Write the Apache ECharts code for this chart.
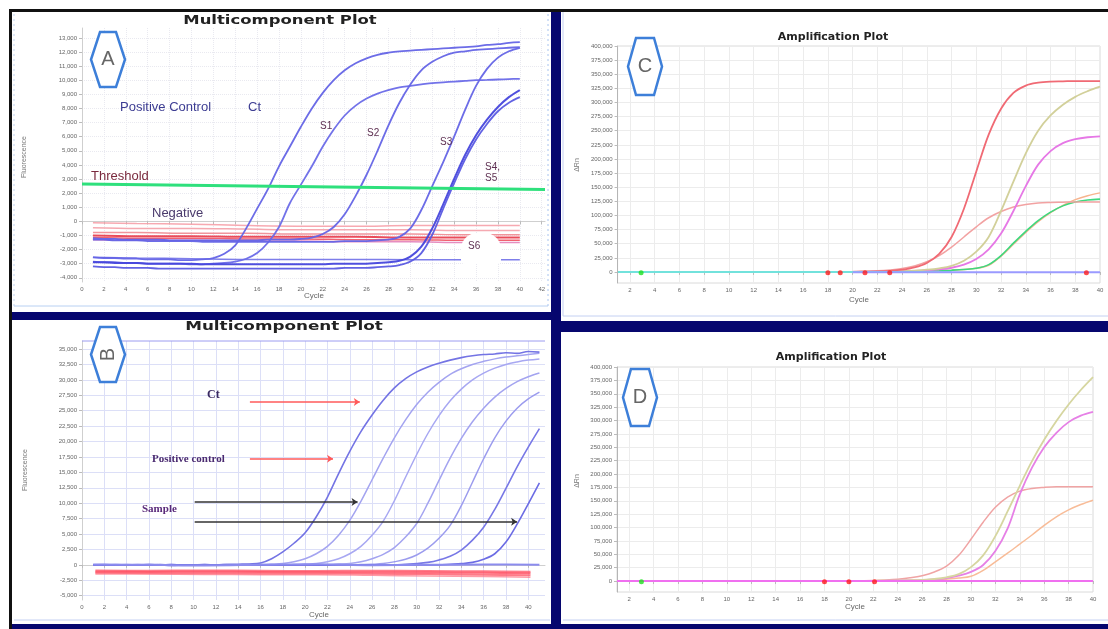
<!DOCTYPE html>
<html>
<head>
<meta charset="utf-8">
<script src="https://cdn.jsdelivr.net/npm/echarts/dist/echarts.min.js"></script>
<style>
html, body { margin: 0; padding: 0; background: #fff; }
#main { width: 1108px; height: 629px; }
</style>
</head>
<body>
<div id="main"></div>
<script>
// ---- panel A (multicomponent plot), fluorescence in thousands ----
const aCycles = [1,2,3,4,5,6,7,8,9,10,11,12,13,14,15,16,17,18,19,20,21,22,23,24,25,26,27,28,29,30,31,32,33,34,35,36,37,38,39,40];
const aS1a = [-2.55,-2.6,-2.6,-2.65,-2.65,-2.7,-2.7,-2.7,-2.75,-2.75,-2.7,-2.6,-2.3,-1.7,-0.5,0.9,2.3,3.9,5.3,6.7,8.0,9.1,10.0,10.7,11.2,11.55,11.8,11.95,12.05,12.1,12.15,12.2,12.25,12.3,12.35,12.4,12.5,12.55,12.65,12.7];
const aS1b = [-2.85,-2.9,-2.9,-2.95,-2.95,-3.0,-3.0,-3.0,-3.0,-3.05,-3.05,-3.0,-2.95,-2.85,-2.65,-2.25,-1.5,-0.4,1.3,2.6,3.9,5.3,6.5,7.5,8.2,8.7,9.05,9.3,9.5,9.6,9.7,9.8,9.85,9.9,9.95,10.0,10.02,10.05,10.08,10.1];
const aS2 = [-1.2,-1.25,-1.25,-1.3,-1.3,-1.3,-1.3,-1.35,-1.35,-1.35,-1.35,-1.35,-1.35,-1.35,-1.35,-1.35,-1.3,-1.3,-1.3,-1.25,-1.15,-0.9,-0.4,0.5,1.8,3.3,5.0,6.8,8.4,9.7,10.7,11.3,11.7,11.95,12.05,12.15,12.2,12.25,12.3,12.35];
const aS3 = [-1.3,-1.3,-1.35,-1.35,-1.35,-1.4,-1.4,-1.4,-1.4,-1.4,-1.45,-1.45,-1.45,-1.45,-1.45,-1.45,-1.45,-1.45,-1.45,-1.45,-1.45,-1.45,-1.45,-1.4,-1.4,-1.4,-1.35,-1.3,-1.1,-0.5,0.8,2.5,4.2,6.0,7.9,9.6,10.8,11.6,12.05,12.3];
const aS4 = [-2.9,-2.9,-2.95,-2.95,-2.95,-3.0,-3.0,-3.0,-3.0,-3.0,-3.05,-3.05,-3.05,-3.05,-3.05,-3.05,-3.05,-3.05,-3.05,-3.05,-3.05,-3.05,-3.0,-3.0,-3.0,-3.0,-2.95,-2.9,-2.8,-2.5,-1.8,-0.5,1.2,3.0,4.7,6.1,7.2,8.1,8.8,9.3];
const aS5 = [-3.2,-3.25,-3.25,-3.3,-3.3,-3.3,-3.35,-3.35,-3.35,-3.35,-3.35,-3.35,-3.35,-3.35,-3.35,-3.35,-3.35,-3.35,-3.35,-3.35,-3.35,-3.35,-3.35,-3.3,-3.3,-3.3,-3.25,-3.2,-3.1,-2.85,-2.25,-0.95,0.9,2.7,4.4,5.8,6.9,7.8,8.4,8.8];
const aFlatCycles = [1,5,10,15,20,25,30,35,40];
const aS6 = [-2.55,-2.6,-2.65,-2.7,-2.7,-2.7,-2.72,-2.72,-2.72];
const aNeg1 = [-0.1,-0.15,-0.2,-0.3,-0.35,-0.35,-0.3,-0.3,-0.3];
const aNeg2 = [-0.45,-0.5,-0.5,-0.55,-0.6,-0.6,-0.6,-0.65,-0.65];
const aNeg3 = [-0.8,-0.8,-0.85,-0.85,-0.9,-0.9,-0.9,-0.95,-0.95];
const aNeg4 = [-1.0,-1.05,-1.05,-1.1,-1.1,-1.1,-1.15,-1.15,-1.15];
const aNeg5 = [-1.15,-1.2,-1.2,-1.25,-1.25,-1.3,-1.3,-1.35,-1.35];
const aNeg6 = [-1.3,-1.35,-1.35,-1.4,-1.4,-1.45,-1.45,-1.5,-1.5];
const aThreshCycles = [0, 42.3];
const aThreshold = [2.65, 2.25];
const aTicksX = [0,2,4,6,8,10,12,14,16,18,20,22,24,26,28,30,32,34,36,38,40,42];
const aTicksY = [-4,-3,-2,-1,0,1,2,3,4,5,6,7,8,9,10,11,12,13];

// ---- panel B (multicomponent plot), fluorescence in thousands ----
const bCycles = [1,2,3,4,5,6,7,8,9,10,11,12,13,14,15,16,17,18,19,20,21,22,23,24,25,26,27,28,29,30,31,32,33,34,35,36,37,38,39,40,41];
const bPos = [0,0.05,0,-0.05,0,0.05,0,-0.1,-0.05,0,0.05,0,0.05,0.1,0.15,0.3,1.0,2.1,3.5,5.2,7.8,11.0,14.8,18.4,21.6,24.3,26.7,28.7,30.2,31.3,32.1,32.7,33.2,33.6,33.9,34.1,34.2,34.4,34.3,34.6,34.5];
const bS1 = [0,0,0.05,0,-0.05,0,0,0.05,0,0,-0.05,0,0.05,0,0.05,0.05,0.1,0.2,0.5,1.0,1.8,3.0,4.8,7.2,10.3,13.8,17.3,20.6,23.5,26.0,28.0,29.6,30.9,31.8,32.5,33.0,33.4,33.7,33.9,34.1,34.3];
const bS2 = [0,0,0,0.05,0,0,-0.05,0,0,0,0.05,0,0,0,0,0.05,0,0,0.05,0.1,0.2,0.5,1.0,1.8,3.0,4.8,7.1,10.4,14.2,17.9,21.3,24.2,26.6,28.5,30.0,31.1,31.9,32.5,32.9,33.2,33.4];
const bS3 = [0,0,0,0,0.05,0,0,0,-0.05,0,0,0,0.05,0,0,0,0,0.05,0,0,0,0,0.1,0.2,0.5,1.0,1.7,2.8,4.5,6.7,10.0,13.7,17.3,20.5,23.2,25.4,27.2,28.6,29.7,30.5,31.1];
const bS4 = [0,0,0,0,0,0.05,0,0,0,0,-0.05,0,0,0,0,0,0.05,0,0,0,0,0,0,0,0.05,0.1,0.2,0.5,0.9,1.6,2.7,4.3,6.4,9.6,13.4,17.2,20.6,23.3,25.4,26.9,28.0];
const bS5 = [0,0,0,0,0,0,0.05,0,0,0,0,0,-0.05,0,0,0,0,0,0,0.05,0,0,0,0,0,0,0,0,0.1,0.2,0.4,0.8,1.4,2.4,4.0,6.1,9.0,12.4,15.9,19.1,22.1];
const bS6 = [0,0,0,0,0,0,0,0.05,0,0,0,0,0,0,-0.05,0,0,0,0,0,0,0,0.05,0,0,0,0,0,0,0,0,0,0.1,0.2,0.4,0.9,1.8,3.7,6.6,9.9,13.3];
const bFlatCycles = [1,6,11,16,21,26,31,36,41];
const bBase = [0.05,0,-0.1,0,0.1,-0.05,0,0.05,0];
const bNegCycles = [1.2,6,11,16,21,26,31,36,40.2];
const bNeg1 = [-0.9,-0.95,-0.9,-0.95,-1.0,-0.95,-1.0,-1.05,-1.1];
const bNeg2 = [-1.1,-1.15,-1.1,-1.15,-1.2,-1.2,-1.25,-1.3,-1.35];
const bNeg3 = [-1.3,-1.35,-1.35,-1.4,-1.4,-1.45,-1.5,-1.6,-1.7];
const bNeg4 = [-1.5,-1.5,-1.55,-1.6,-1.6,-1.7,-1.8,-1.9,-2.0];
const bTicksX = [0,2,4,6,8,10,12,14,16,18,20,22,24,26,28,30,32,34,36,38,40];
const bTicksY = [-5,-2.5,0,2.5,5,7.5,10,12.5,15,17.5,20,22.5,25,27.5,30,32.5,35];

// ---- panel C (amplification plot), delta Rn in thousands ----
const cCycles = [1,20,21,22,23,24,25,26,27,28,29,30,31,32,33,34,35,36,37,38,39,40];
const cRed = [0,0.3,0.6,1.0,2.0,4.0,8.0,16,32,62,112,178,243,289,317,330,335,337,337.5,338,338,338];
const cOlive = [0,0.2,0.4,0.6,1.0,1.6,2.5,4.0,6.5,11,20,36,62,108,160,210,250,277,296,310,320,328];
const cMagenta = [0,0.1,0.3,0.5,0.8,1.3,2.0,3.0,4.5,7.5,13,23,40,68,108,152,190,214,228,235,238.5,240];
const cSalmon = [0,0.8,1.3,2.0,3.5,6.0,10.5,18,29,44,62,80,96,107,115,119.5,122,123,123.5,124,124,124];
const cGreen = [0,0.1,0.2,0.3,0.5,0.7,1.0,1.5,2.2,3.2,4.5,6.5,13,29,51,72,91,106,117,124,127.5,129];
const cOrange = [0,0.1,0.2,0.3,0.5,0.7,1.0,1.5,2.2,3.2,4.5,6.5,12,28,49,70,89,105,118,128,135,140];
const cCyanCycles = [1,28];
const cCyan = [0,0];
const cBlueCycles = [20,40];
const cBlue = [-0.5,-0.5];
const cRedCt = [18,19,21,23,38.9];
const cGreenCt = [2.9];

// ---- panel D (amplification plot), delta Rn in thousands ----
const dCycles = [1,20,21,22,23,24,25,26,27,28,29,30,31,32,33,34,35,36,37,38,39,40];
const dOlive = [0,0.1,0.2,0.4,0.6,0.9,1.4,2.2,3.8,7,13,26,48,84,130,178,224,264,299,330,357,381];
const dMagenta = [0,0.1,0.2,0.3,0.5,0.8,1.2,1.8,3.0,5.5,10,17,30,56,98,162,212,250,277,297,309,316];
const dSalmon = [0,0.3,0.6,1.0,2.0,3.5,6.0,10,17,28,48,78,110,138,157,168,173,175,176,176,176,176];
const dOrange = [0,0.1,0.2,0.3,0.5,0.7,1.0,1.5,2.2,3.5,5.5,9,20,36,52,69,86,104,120,133,143,151];
const dPinkCycles = [1,40];
const dPink = [0,0];
const dRedCt = [18,20,22.1];
const dGreenCt = [3];
const cdTicksX = [2,4,6,8,10,12,14,16,18,20,22,24,26,28,30,32,34,36,38,40];
const cdTicksY = [0,25,50,75,100,125,150,175,200,225,250,275,300,325,350,375,400];

const thousands = v => Math.round(v * 1000).toLocaleString('en-US');
const pairs = (xs, ys) => xs.map((x, i) => [x, ys[i]]);

function curve(idx, xs, ys, color, width, opacity, smooth) {
  return {
    type: 'line', xAxisIndex: idx, yAxisIndex: idx, data: pairs(xs, ys),
    symbol: 'none', silent: true, smooth: smooth === false ? false : 0.35,
    lineStyle: { color: color, width: width, opacity: opacity }
  };
}
function dots(idx, xs, value, color) {
  return {
    type: 'scatter', xAxisIndex: idx, yAxisIndex: idx, silent: true, z: 5,
    data: xs.map(x => [x, value]), symbol: 'circle', symbolSize: 5,
    itemStyle: { color: color }
  };
}

function xAxis(idx, min, max, ticks, split) {
  return {
    type: 'value', gridIndex: idx, min: min, max: max,
    axisLine: { lineStyle: { color: idx < 2 ? '#cfcfcf' : '#b5b5b5' } },
    axisTick: { customValues: ticks, length: 3, lineStyle: { color: '#bbb' } },
    axisLabel: { customValues: ticks, fontSize: 6, color: '#666', margin: 4, fontFamily: 'Liberation Sans' },
    splitLine: { show: true, lineStyle: split }
  };
}
function yAxis(idx, min, max, ticks, split) {
  return {
    type: 'value', gridIndex: idx, min: min, max: max,
    axisLine: { show: true, lineStyle: { color: idx < 2 ? '#cfcfcf' : '#b5b5b5' } },
    axisTick: { show: true, customValues: ticks, length: 3, lineStyle: { color: '#bbb' } },
    axisLabel: { customValues: ticks, fontSize: 6, color: '#666', margin: 5, fontFamily: 'Liberation Sans', formatter: thousands },
    splitLine: { show: true, lineStyle: split }
  };
}

const gridA = { color: '#e9e9f0', type: 'dotted' };
const gridB = { color: '#dcdff7' };
const gridCD = { color: '#ececec' };

const series = [
  // A
  curve(0, aFlatCycles, aNeg1, '#f6a0a8', 1.5, 0.9),
  curve(0, aFlatCycles, aNeg2, '#f4a0a8', 1.5, 0.9),
  curve(0, aFlatCycles, aNeg3, '#f08890', 1.5, 0.9),
  curve(0, aFlatCycles, aNeg4, '#e83848', 2, 0.9),
  curve(0, aFlatCycles, aNeg5, '#ee5060', 1.5, 0.9),
  curve(0, aFlatCycles, aNeg6, '#e070b0', 1.5, 0.8),
  curve(0, aFlatCycles, aS6, '#7070e8', 1.5, 0.9),
  curve(0, aCycles, aS1a, '#6464e6', 1.8, 0.95),
  curve(0, aCycles, aS1b, '#6a6ae8', 1.8, 0.95),
  curve(0, aCycles, aS2, '#6464e6', 1.8, 0.95),
  curve(0, aCycles, aS3, '#6464e6', 1.8, 0.95),
  curve(0, aCycles, aS4, '#4646dc', 2, 0.95),
  curve(0, aCycles, aS5, '#5a5ae2', 1.8, 0.95),
  curve(0, aThreshCycles, aThreshold, '#2ee07c', 3, 1, false),
  // B
  curve(1, bNegCycles, bNeg1, '#ff5a6a', 2, 0.8),
  curve(1, bNegCycles, bNeg2, '#ff4a5c', 2, 0.8),
  curve(1, bNegCycles, bNeg3, '#ff5a6a', 2, 0.8),
  curve(1, bNegCycles, bNeg4, '#ff7080', 1.5, 0.7),
  curve(1, bCycles, bS1, '#a4a4f0', 1.5, 1),
  curve(1, bCycles, bS2, '#a8a8f2', 1.5, 1),
  curve(1, bCycles, bS3, '#a4a4f0', 1.5, 1),
  curve(1, bCycles, bS4, '#9c9cee', 1.5, 1),
  curve(1, bCycles, bS5, '#7878e6', 1.6, 1),
  curve(1, bCycles, bS6, '#6c6ce4', 1.6, 1),
  curve(1, bCycles, bPos, '#7474e4', 1.6, 1),
  Object.assign(curve(1, bFlatCycles, bBase, '#8c8cee', 2, 1), {
    markLine: {
      silent: true, symbol: ['none', 'arrow'], symbolSize: 6, label: { show: false },
      lineStyle: { type: 'solid', width: 1.5 },
      data: [
        [{ coord: [15.05, 26.4], lineStyle: { color: '#ff5a5a', type: 'solid', width: 1.5 } }, { coord: [24.9, 26.4] }],
        [{ coord: [15.05, 17.2], lineStyle: { color: '#ff5a5a', type: 'solid', width: 1.5 } }, { coord: [22.5, 17.2] }],
        [{ coord: [10.1, 10.2], lineStyle: { color: '#333', type: 'solid', width: 1.5 } }, { coord: [24.7, 10.2] }],
        [{ coord: [10.1, 7.0], lineStyle: { color: '#333', type: 'solid', width: 1.5 } }, { coord: [39.0, 7.0] }]
      ]
    }
  }),
  // C
  curve(2, cCycles, cOrange, '#f7b48e', 1.5, 1),
  curve(2, cCycles, cGreen, '#3ed87e', 1.6, 1),
  curve(2, cCycles, cSalmon, '#f2a2a2', 1.5, 1),
  curve(2, cCycles, cMagenta, '#e678e6', 1.8, 1),
  curve(2, cCycles, cOlive, '#d2d09a', 1.8, 1),
  curve(2, cCycles, cRed, '#f06a74', 1.8, 1),
  curve(2, cCyanCycles, cCyan, '#72e2dc', 2, 1, false),
  curve(2, cBlueCycles, cBlue, '#9a9aff', 2, 1, false),
  dots(2, cRedCt, -1.5, '#ff1e1e'),
  dots(2, cGreenCt, -1.5, '#1ee01e'),
  // D
  curve(3, dCycles, dOrange, '#f8bc98', 1.5, 1),
  curve(3, dCycles, dSalmon, '#f0a4a4', 1.5, 1),
  curve(3, dCycles, dMagenta, '#e680e6', 1.8, 1),
  curve(3, dCycles, dOlive, '#d6d6a0', 1.8, 1),
  curve(3, dPinkCycles, dPink, '#f070f0', 2, 1, false),
  dots(3, dRedCt, -1.5, '#ff1e1e'),
  dots(3, dGreenCt, -1.5, '#1ee01e')
];

function hexagon(cx, cy, w, h, inset, letter, rot) {
  const l = cx - w / 2, r = cx + w / 2, t = cy - h / 2, b = cy + h / 2;
  return [
    { type: 'polygon', z: 100, shape: { points: [[l + inset, t], [r - inset, t], [r, cy], [r - inset, b], [l + inset, b], [l, cy]] },
      style: { fill: '#fff', stroke: '#3d7fd9', lineWidth: 2.5 } },
    { type: 'text', z: 101, x: cx, y: cy, rotation: rot || 0,
      style: { text: letter, font: '20px Liberation Sans', fill: '#666', textAlign: 'center', textVerticalAlign: 'middle' } }
  ];
}
function label(x, y, text, font, fill, align, extra) {
  return Object.assign({ type: 'text', z: 102, x: x, y: y,
    style: { text: text, font: font, fill: fill, textAlign: align || 'left', textVerticalAlign: 'middle' } }, extra || {});
}
function box(x, y, w, h, fill) {
  return { type: 'rect', z: 90, shape: { x: x, y: y, width: w, height: h }, style: { fill: fill } };
}
function rule(x1, y1, x2, y2, color, dash) {
  return { type: 'line', z: 90, shape: { x1: x1, y1: y1, x2: x2, y2: y2 }, style: { stroke: color, lineWidth: 1, lineDash: dash || null } };
}

const graphics = [
  box(9, 9, 1099, 3, '#111'),
  box(9, 9, 3, 620, '#111'),
  box(551, 12, 10, 617, '#06066e'),
  box(12, 312, 539, 8, '#06066e'),
  box(561, 321, 547, 11, '#06066e'),
  box(12, 624, 1096, 5, '#06066e'),
  rule(14, 306, 548, 306, '#b8d0f2'),
  rule(548, 14, 548, 306, '#a8c4f0', [2, 3]),
  rule(14, 14, 14, 306, '#c0d4f2', [2, 3]),
  rule(563, 316, 1108, 316, '#c4d0f2'),
  rule(563, 12, 563, 316, '#c4d0f2'),
  rule(563, 620, 1108, 620, '#c4d0f2'),
  rule(14, 620, 550, 620, '#c4d0f2'),
  rule(82, 341, 545, 341, '#9c9cf0'),
  // white blob behind the S6 label
  { type: 'rect', z: 95, shape: { x: 461, y: 233, width: 40, height: 31, r: [16, 16, 4, 4] }, style: { fill: '#fff' } },
  // titles
  label(280, 21, 'Multicomponent Plot', 'bold 12px DejaVu Sans', '#222', 'center', { scaleX: 1.37 }),
  label(284, 327, 'Multicomponent Plot', 'bold 12px DejaVu Sans', '#222', 'center', { scaleX: 1.4 }),
  label(833, 37, 'Amplification Plot', 'bold 11px DejaVu Sans', '#222', 'center'),
  label(831, 357, 'Amplification Plot', 'bold 11px DejaVu Sans', '#222', 'center'),
  // axis names
  label(314, 296, 'Cycle', '8px Liberation Sans', '#666', 'center'),
  label(319, 615, 'Cycle', '8px Liberation Sans', '#666', 'center'),
  label(859, 300, 'Cycle', '8px Liberation Sans', '#666', 'center'),
  label(855, 607, 'Cycle', '8px Liberation Sans', '#666', 'center'),
  label(24, 157, 'Fluorescence', '7px Liberation Sans', '#777', 'center', { rotation: Math.PI / 2 }),
  label(25, 470, 'Fluorescence', '7px Liberation Sans', '#777', 'center', { rotation: Math.PI / 2 }),
  label(577, 165, 'ΔRn', '7px Liberation Sans', '#777', 'center', { rotation: Math.PI / 2 }),
  label(577, 481, 'ΔRn', '7px Liberation Sans', '#777', 'center', { rotation: Math.PI / 2 }),
  // panel A notes
  label(120, 107, 'Positive Control', '13px Liberation Sans', '#3c3c92'),
  label(248, 107, 'Ct', '13px Liberation Sans', '#3c3c92'),
  label(91, 176, 'Threshold', '13px Liberation Sans', '#7a2a3e'),
  label(152, 213, 'Negative', '13px Liberation Sans', '#4a3a6c'),
  label(320, 126, 'S1', '10px Liberation Sans', '#5e3052'),
  label(367, 133, 'S2', '10px Liberation Sans', '#5e3052'),
  label(440, 142, 'S3', '10px Liberation Sans', '#5e3052'),
  label(485, 167, 'S4,', '10px Liberation Sans', '#5e3052'),
  label(485, 178, 'S5', '10px Liberation Sans', '#5e3052'),
  label(468, 246, 'S6', '10px Liberation Sans', '#5e3052'),
  // panel B notes
  label(207, 395, 'Ct', 'bold 12px Liberation Serif', '#3a2a62'),
  label(152, 459, 'Positive control', 'bold 11px Liberation Serif', '#4a2a70'),
  label(142, 509, 'Sample', 'bold 11px Liberation Serif', '#5a2a7a')
].concat(
  hexagon(108, 59.5, 34, 55, 9, 'A'),
  hexagon(108, 354.5, 34, 55, 9, 'B', Math.PI / 2),
  hexagon(645, 66.5, 34, 57, 8, 'C'),
  hexagon(640, 397.5, 34, 57, 8, 'D')
);

const chart = echarts.init(document.getElementById('main'));
chart.setOption({
  animation: false,
  backgroundColor: '#fff',
  grid: [
    { left: 82, top: 28, width: 463, height: 254 },
    { left: 82, top: 341, width: 463, height: 259 },
    { left: 617.6, top: 46, width: 482.4, height: 237, show: true, borderColor: '#dadada', borderWidth: 1 },
    { left: 617, top: 367, width: 476, height: 225, show: true, borderColor: '#dadada', borderWidth: 1 }
  ],
  xAxis: [
    xAxis(0, 0, 42.3, aTicksX, gridA),
    xAxis(1, 0, 41.5, bTicksX, gridB),
    xAxis(2, 1, 40, cdTicksX, gridCD),
    xAxis(3, 1, 40, cdTicksX, gridCD)
  ],
  yAxis: [
    yAxis(0, -4.3, 13.7, aTicksY, gridA),
    yAxis(1, -5.7, 36.3, bTicksY, gridB),
    yAxis(2, -19.5, 400, cdTicksY, gridCD),
    yAxis(3, -20.5, 400, cdTicksY, gridCD)
  ],
  series: series,
  graphic: { elements: graphics }
});
</script>
</body>
</html>
